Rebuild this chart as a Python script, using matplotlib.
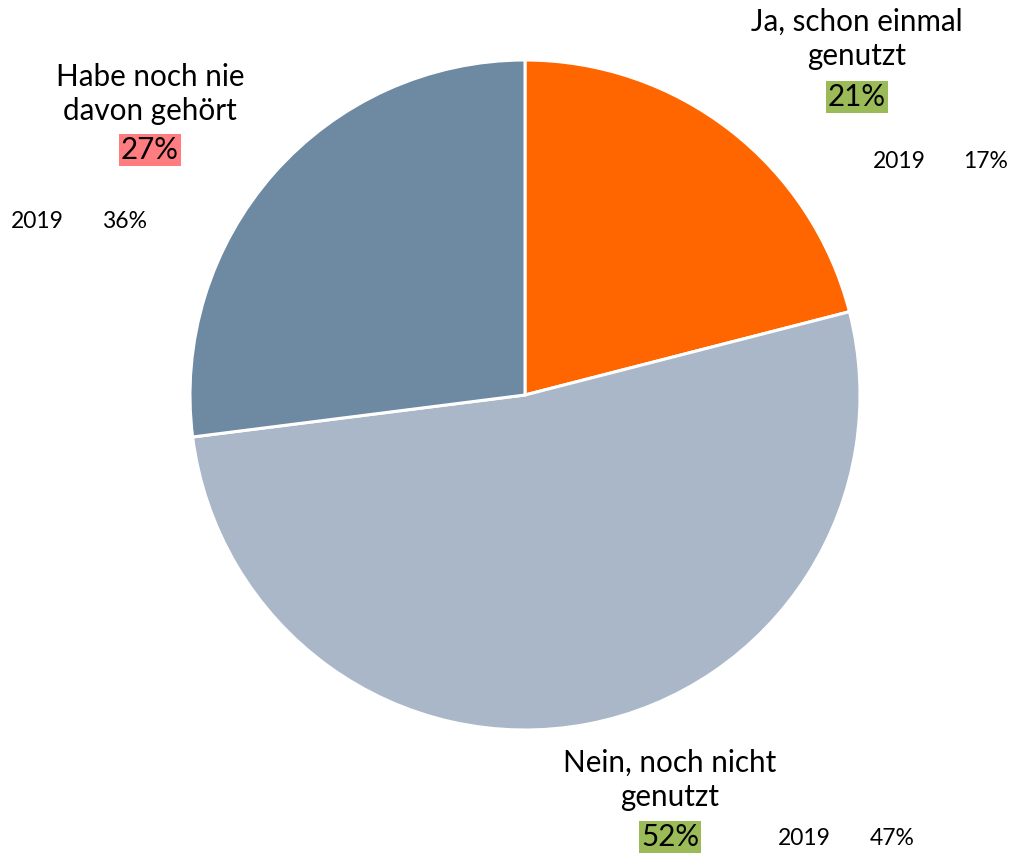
import matplotlib
matplotlib.use("Agg")
import matplotlib.pyplot as plt

labels = ["Ja, schon einmal\ngenutzt", "Nein, noch nicht\ngenutzt", "Habe noch nie\ndavon gehört"]
shares = [21, 52, 27]
shares_2019 = [17, 47, 36]
colors = ["#FF6600", "#A9B7C8", "#6E89A2"]
highlight = ["#9BBB59", "#9BBB59", "#FF7C80"]

W, H = 1013, 855
fig = plt.figure(figsize=(W / 100, H / 100), dpi=100)
ax = fig.add_axes([0, 0, 1, 1])

ax.pie(shares, colors=colors, startangle=90, counterclock=False,
       center=(525, H - 395), radius=335,
       wedgeprops=dict(edgecolor="white", linewidth=2.2))

# pie() resets the limits, so set them afterwards
ax.set_xlim(0, W)
ax.set_ylim(0, H)
ax.set_aspect("equal")
ax.axis("off")

font = "Lato"
# label anchor positions (pixel coords from top)
name_pos = [(857, 39), (670, 780), (150, 94)]
pct_pos = [(857, 97), (670, 837), (150, 150)]
year_pos = [((899, 161), (986, 161)), ((804, 838), (892, 838)), ((37, 221), (125, 221))]

for i in range(3):
    x, y = name_pos[i]
    ax.text(x, H - y, labels[i], ha="center", va="center", fontsize=21.3,
            family=font, linespacing=1.3)
    x, y = pct_pos[i]
    ax.text(x, H - y, f"{shares[i]}%", ha="center", va="center", fontsize=21.3,
            family=font, bbox=dict(facecolor=highlight[i], edgecolor="none", pad=1.5))
    (x1, y1), (x2, y2) = year_pos[i]
    ax.text(x1, H - y1, "2019", ha="center", va="center", fontsize=16.5, family=font)
    ax.text(x2, H - y2, f"{shares_2019[i]}%", ha="center", va="center", fontsize=16.5, family=font)

fig.savefig("out.png", dpi=100)
